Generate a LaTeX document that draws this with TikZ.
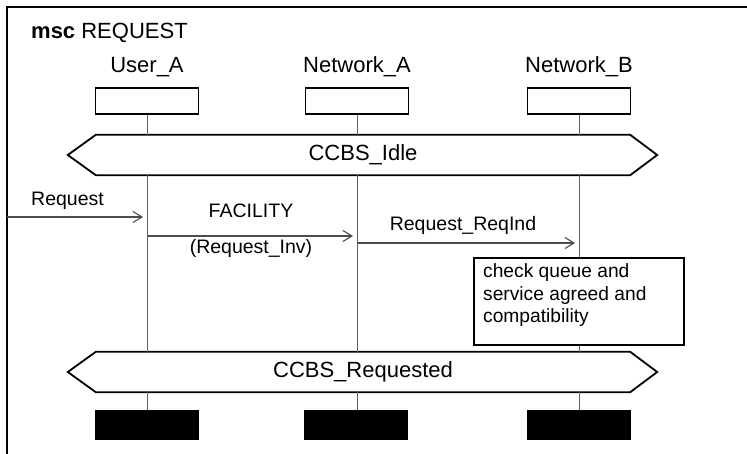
\documentclass[tikz,border=0pt]{standalone}
\usepackage{fontspec}
\setmainfont{Liberation Sans}
\usetikzlibrary{arrows.meta,calc}

\begin{document}
\begin{tikzpicture}[x=1pt,y=-1pt,
  inst/.style={draw,line width=1.8pt,minimum width=103pt,minimum height=26pt,inner sep=0pt},
  endbox/.style={fill=black,minimum width=104pt,minimum height=30pt,inner sep=0pt},
  cond/.style={minimum width=534pt,minimum height=40pt,inner sep=0pt,font=\fontsize{22}{26}\selectfont},
  big/.style={font=\fontsize{22}{26}\selectfont,inner sep=0pt},
  msgtxt/.style={font=\fontsize{19.5}{23}\selectfont,inner sep=0pt},
  acttxt/.style={font=\fontsize{19.2}{22.5}\selectfont,inner sep=0pt,align=left},
  life/.style={draw=black!62,line width=1pt},
  msg/.style={draw=black!70,line width=1.1pt,shorten >=4pt,
    -{Straight Barb[length=9pt,width=11pt,line width=1.1pt]}},
  hex/.style={draw,line width=1.8pt,line join=miter}
]
\useasboundingbox (0,0) rectangle (747,454);
\fill[white] (0,0) rectangle (747,454);

% diagram frame (open towards the right and bottom)
\draw[line width=2.4pt] (7,470) -- (7,7) -- (760,7);
\node[big,anchor=base west] (title) at (31,39) {\textbf{msc} REQUEST};

% instance heads
\node[big,anchor=base] (uaname) at (147,73) {User\_A};
\node[big,anchor=base] (naname) at (357,73) {Network\_A};
\node[big,anchor=base] (nbname) at (579,73) {Network\_B};
\node[inst] (ua) at (147,101) {};
\node[inst] (na) at (357,101) {};
\node[inst] (nb) at (579,101) {};

% conditions
\node[cond] (idle) at (363,155) {CCBS\_Idle};
\node[cond] (reqd) at (363,372) {CCBS\_Requested};
\foreach \c in {idle,reqd}{
  \draw[hex] (\c.north west) -- (\c.north east) -- ([xshift=27pt]\c.east)
    -- (\c.south east) -- (\c.south west) -- ([xshift=-28pt]\c.west) -- cycle;
}

% instance ends
\node[endbox] (uae) at (147,425) {};
\node[endbox] (nae) at (356,425) {};
\node[endbox] (nbe) at (579,425) {};

% lifelines
\foreach \i/\e in {ua/uae,na/nae,nb/nbe}{
  \draw[life] (\i.south) -- (\i |- idle.north);
  \draw[life] (\i |- idle.south) -- (\i |- reqd.north);
  \draw[life] (\i |- reqd.south) -- (\i |- \e.north);
}

% messages
\coordinate (env) at (7,217);
\node[msgtxt,anchor=base west] (reqlbl) at (31,206) {Request};
\draw[msg] (env) -- (env -| ua);

\node[msgtxt,anchor=base] (faclbl) at (251,218) {FACILITY};
\node[msgtxt,anchor=base] (invlbl) at (251,254) {(Request\_Inv)};
\draw[msg] (ua |- 0,236) -- (na |- 0,236);

\node[msgtxt,anchor=base] (indlbl) at (463,231) {Request\_ReqInd};
\draw[msg] (na |- 0,243) -- (nb |- 0,243);

% action on Network_B (base anchor = baseline of the last line)
\node[draw,line width=2.2pt,fill=white,minimum width=210pt,minimum height=87pt,
      inner sep=0pt,anchor=north west] (act) at (473,257) {};
\node[acttxt,anchor=base west] (acttext) at ($(act.north west)+(10,66)$)
  {check queue and\\service agreed and\\compatibility};
\end{tikzpicture}
\end{document}
